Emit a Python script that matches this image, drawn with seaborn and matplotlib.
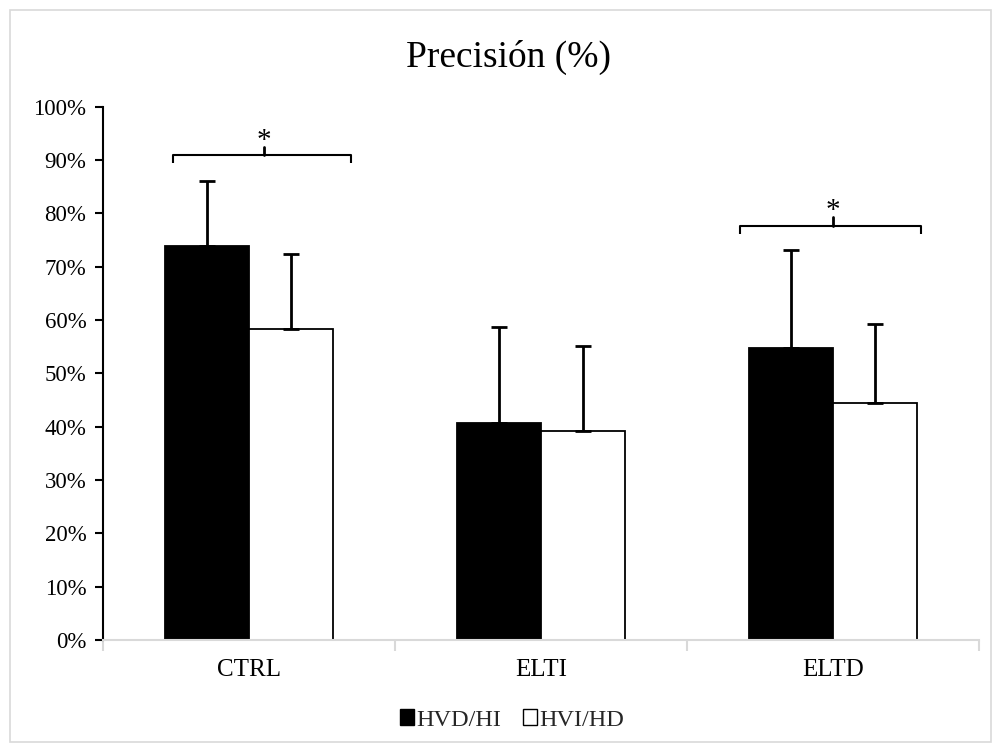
import matplotlib
matplotlib.use("Agg")
import matplotlib.pyplot as plt
from matplotlib.patches import Patch, Rectangle
from matplotlib.ticker import PercentFormatter, FixedLocator
import seaborn as sns
import pandas as pd
import numpy as np

categories = ["CTRL", "ELTI", "ELTD"]
groups = ["HVD/HI", "HVI/HD"]
mean_hvd_hi = [73.8, 40.6, 54.7]
mean_hvi_hd = [58.3, 39.2, 44.5]
sd_hvd_hi = [12.3, 18.1, 18.5]
sd_hvi_hd = [14.0, 16.0, 14.7]
title = "Precisión (%)"

sns.set_theme(style="white")
plt.rcParams["font.family"] = ["Liberation Serif", "DejaVu Serif"]

df = pd.DataFrame({
    "cat": categories * 2,
    "grp": [groups[0]] * 3 + [groups[1]] * 3,
    "val": [v / 100 for v in mean_hvd_hi + mean_hvi_hd],
})

fig = plt.figure(figsize=(10, 7.52), dpi=100)
ax = fig.add_axes([0.103, 0.149, 0.876, 0.709])

sns.barplot(data=df, x="cat", y="val", hue="grp", order=categories, hue_order=groups,
            palette={groups[0]: "black", groups[1]: "white"}, edgecolor="black",
            linewidth=1.3, width=0.578, gap=0, errorbar=None, legend=False, ax=ax)

sds = [sd_hvd_hi, sd_hvi_hd]
for cont, sd in zip(ax.containers, sds):
    xs = [b.get_x() + b.get_width() / 2 for b in cont]
    ys = [b.get_height() for b in cont]
    err = np.array(sd) / 100
    ax.errorbar(xs, ys, yerr=[np.zeros_like(err), err], fmt="none", ecolor="black",
                elinewidth=2, capsize=6, capthick=2, zorder=3)

ax.set_ylim(0, 1)
ax.set_xlim(-0.5, 2.5)
ax.yaxis.set_major_locator(FixedLocator(np.arange(0, 1.01, 0.1)))
ax.yaxis.set_major_formatter(PercentFormatter(1.0, decimals=0))
ax.set_xlabel("")
ax.set_ylabel("")
ax.xaxis.set_minor_locator(FixedLocator([-0.5, 0.5, 1.5, 2.5]))
ax.tick_params(axis="x", which="major", length=0, labelsize=18, pad=14, colors="black")
ax.tick_params(axis="x", which="minor", length=8, width=1.5, color="#d9d9d9", bottom=True)
ax.tick_params(axis="y", which="major", length=6, width=1.5, color="black", labelsize=16.5,
               pad=6, left=True, labelcolor="black")
for s in ["top", "right"]:
    ax.spines[s].set_visible(False)
ax.spines["left"].set_color("black")
ax.spines["left"].set_linewidth(1.5)
ax.spines["bottom"].set_color("#d9d9d9")
ax.spines["bottom"].set_linewidth(1.5)

# significance brackets
def bracket(x0, x1, xc, y, ydrop, ytop, ystar):
    ax.plot([x0, x0, x1, x1], [ydrop, y, y, ydrop], color="black", lw=1.5, solid_capstyle="butt")
    ax.plot([xc, xc], [y, ytop], color="black", lw=2)
    ax.text(xc, ystar, "*", ha="center", va="center", fontsize=21, color="black")

bracket(-0.26, 0.35, 0.05, 0.91, 0.895, 0.925, 0.935)
bracket(1.68, 2.30, 2.0, 0.777, 0.762, 0.794, 0.805)

fig.text(0.509, 0.924, title, ha="center", va="center", fontsize=27, color="black")

handles = [Patch(facecolor="black", edgecolor="black", linewidth=1),
           Patch(facecolor="white", edgecolor="black", linewidth=1)]
fig.legend(handles, groups, loc="center", bbox_to_anchor=(0.512, 0.0426), ncol=2, frameon=False,
           fontsize=17.5, handlelength=0.58, handleheight=0.58, handletextpad=0.1,
           columnspacing=0.9, borderpad=0, borderaxespad=0)

fig.patches.append(Rectangle((0.0095, 0.013), 0.981, 0.974, transform=fig.transFigure,
                             fill=False, edgecolor="#d9d9d9", linewidth=1.2))

fig.savefig("out.png", dpi=100, facecolor="white")
